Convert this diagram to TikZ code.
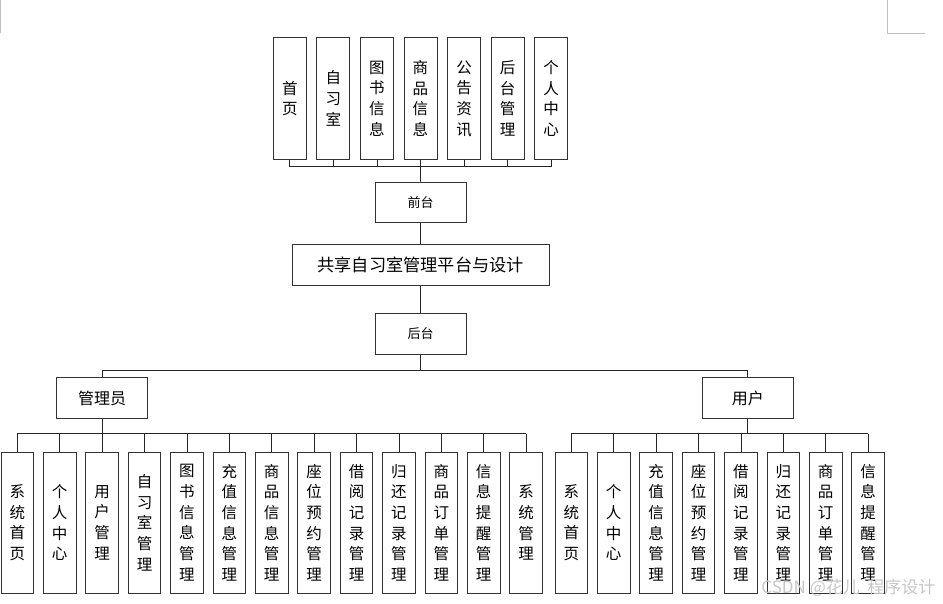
\documentclass[tikz,border=0pt]{standalone}
\usepackage{fontspec}
\newfontfamily\cjk{Noto Sans CJK SC}
\tikzset{
  box/.style={draw=black!80, line width=0.8pt, inner sep=0pt, align=center, fill=white,
    font=\cjk\fontsize{15.5}{20.7}\selectfont},
  vtop/.style={box, minimum width=33, minimum height=121.6},
  vbot/.style={box, minimum width=32.7, minimum height=141.3},
  hbox/.style={box, minimum width=90.7, minimum height=40.5},
  conn/.style={draw=black!85, line width=0.8pt},
  pagemark/.style={draw=black!25, line width=0.8pt},
}
\begin{document}
\begin{tikzpicture}[x=1pt,y=-1pt]
\useasboundingbox (0,0) rectangle (943,603);
% page corner marks
\draw[pagemark] (0.7,0) -- (0.7,33.3);
\draw[pagemark] (887.3,0) -- (887.3,33.3) -- (925,33.3);
% top level
\foreach \t [count=\i from 0] in {{首\\页},{自\\习\\室},{图\\书\\信\\息},{商\\品\\信\\息},{公\\告\\资\\讯},{后\\台\\管\\理},{个\\人\\中\\心}}
  \node[vtop] (t\i) at (289.8+43.55*\i,98.5) {\t};
\coordinate (tb) at (420.5,166.7);
\foreach \i in {0,...,6} \draw[conn] (t\i.south) -- (t\i.south |- tb);
\draw[conn] (t0.south |- tb) -- (t6.south |- tb);
\node[hbox, font=\cjk\fontsize{13}{15}\selectfont] (qt) at (420.6,202.2) {前台};
\node[box, minimum width=256.7, minimum height=40.6, font=\cjk\fontsize{17.2}{20}\selectfont] (main) at (420.6,265) {共享自习室管理平台与设计};
\node[hbox, font=\cjk\fontsize{13}{15}\selectfont] (ht) at (420.6,333.9) {后台};
\draw[conn] (tb) -- (qt.north);
\draw[conn] (qt) -- (main);
\draw[conn] (main) -- (ht);
\coordinate (hb) at (420.6,370.5);
\node[hbox, font=\cjk\fontsize{16}{18}\selectfont] (gly) at (102,398) {管理员};
\node[hbox, font=\cjk\fontsize{16}{18}\selectfont] (yh) at (747.8,398) {用户};
\draw[conn] (ht.south) -- (hb);
\draw[conn] (gly.north) |- (hb) -| (yh.north);
% admin
\foreach \t [count=\i from 0] in {{系\\统\\首\\页},{个\\人\\中\\心},{用\\户\\管\\理},{自\\习\\室\\管\\理},{图\\书\\信\\息\\管\\理},{充\\值\\信\\息\\管\\理},{商\\品\\信\\息\\管\\理},{座\\位\\预\\约\\管\\理},{借\\阅\\记\\录\\管\\理},{归\\还\\记\\录\\管\\理},{商\\品\\订\\单\\管\\理},{信\\息\\提\\醒\\管\\理},{系\\统\\管\\理}}
  \node[vbot] (a\i) at (17.3+42.4*\i,522.7) {\t};
\coordinate (ab) at (102,433.7);
\draw[conn] (gly.south) -- (ab);
\draw[conn] (a0.north |- ab) -- (a12.north |- ab);
\foreach \i in {0,...,12} \draw[conn] (a\i.north) -- (a\i.north |- ab);
% user
\foreach \t [count=\i from 0] in {{系\\统\\首\\页},{个\\人\\中\\心},{充\\值\\信\\息\\管\\理},{座\\位\\预\\约\\管\\理},{借\\阅\\记\\录\\管\\理},{归\\还\\记\\录\\管\\理},{商\\品\\订\\单\\管\\理},{信\\息\\提\\醒\\管\\理}}
  \node[vbot] (u\i) at (571.3+42.4*\i,522.7) {\t};
\coordinate (ub) at (747.8,433.7);
\draw[conn] (yh.south) -- (ub);
\draw[conn] (u0.north |- ub) -- (u7.north |- ub);
\foreach \i in {0,...,7} \draw[conn] (u\i.north) -- (u\i.north |- ub);
% watermark
\node[font=\cjk\fontsize{17}{19}\selectfont, text=black!22, anchor=east] (wm) at (939,588) {CSDN @花儿\ \ 程序设计};
\end{tikzpicture}
\end{document}
